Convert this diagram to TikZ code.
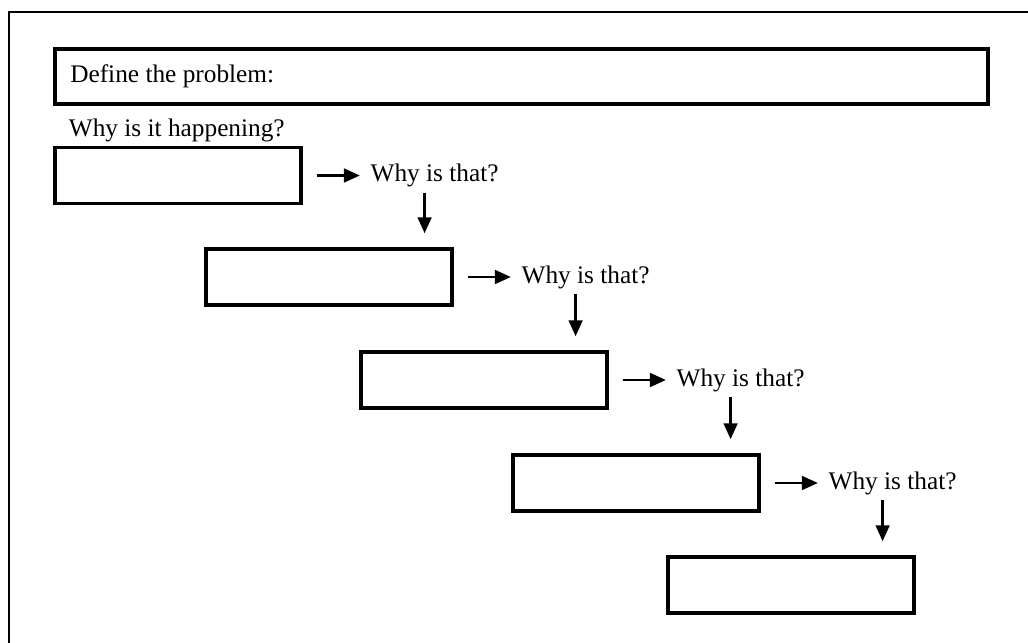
\documentclass[tikz,border=0pt]{standalone}
\usepackage{fontspec}
\setmainfont{Liberation Serif}
\usetikzlibrary{positioning,arrows.meta}

\tikzset{
    whybox/.style={draw, line width=2.4pt, minimum width=6.15cm, minimum height=1.4cm, inner sep=0pt},
    whytext/.style={font=\fontsize{18}{20}\selectfont, inner sep=4pt},
    whyarrow/.style={line width=2pt, -{Triangle[length=0.4cm,width=0.34cm]}},
}

\begin{document}
\begin{tikzpicture}[x=0.025cm, y=-0.025cm]
    \useasboundingbox (0,0) rectangle (1028,643);

    % 外框
    \draw[line width=1.5pt] (1028,12) -- (9,12) -- (9,643);

    % 问题框
    \node[draw, line width=2.4pt, minimum width=23.325cm, minimum height=1.375cm, inner sep=0pt] (define) at (521.5,76.5) {};
    \node[whytext, anchor=west] (deftext) at ([xshift=0.28cm]define.west) {Define the problem:};
    \node[whytext, anchor=west] (happen) at (63,130) {Why is it happening?};

    % 五个框
    \node[whybox] (box1) at (178,175.5) {};
    \node[whybox] (box2) at (329,277) {};
    \node[whybox] (box3) at (484,380) {};
    \node[whybox] (box4) at (636,483) {};
    \node[whybox] (box5) at (791,585) {};

    % 追问
    \node[whytext, right=1.55cm of box1] (why1) {Why is that?};
    \node[whytext, right=1.55cm of box2] (why2) {Why is that?};
    \node[whytext, right=1.55cm of box3] (why3) {Why is that?};
    \node[whytext, right=1.55cm of box4] (why4) {Why is that?};

    % 箭头
    \draw[whyarrow, shorten <=0.35cm, shorten >=0.12cm] (box1.east) -- (why1.west);
    \draw[whyarrow, shorten <=0.35cm, shorten >=0.12cm] (box2.east) -- (why2.west);
    \draw[whyarrow, shorten <=0.35cm, shorten >=0.12cm] (box3.east) -- (why3.west);
    \draw[whyarrow, shorten <=0.35cm, shorten >=0.12cm] (box4.east) -- (why4.west);

    \draw[whyarrow, shorten >=0.35cm] ([xshift=-0.25cm]why1.south) -- ([xshift=-0.25cm]why1.south |- box2.north);
    \draw[whyarrow, shorten >=0.35cm] ([xshift=-0.25cm]why2.south) -- ([xshift=-0.25cm]why2.south |- box3.north);
    \draw[whyarrow, shorten >=0.35cm] ([xshift=-0.25cm]why3.south) -- ([xshift=-0.25cm]why3.south |- box4.north);
    \draw[whyarrow, shorten >=0.35cm] ([xshift=-0.25cm]why4.south) -- ([xshift=-0.25cm]why4.south |- box5.north);
\end{tikzpicture}
\end{document}
